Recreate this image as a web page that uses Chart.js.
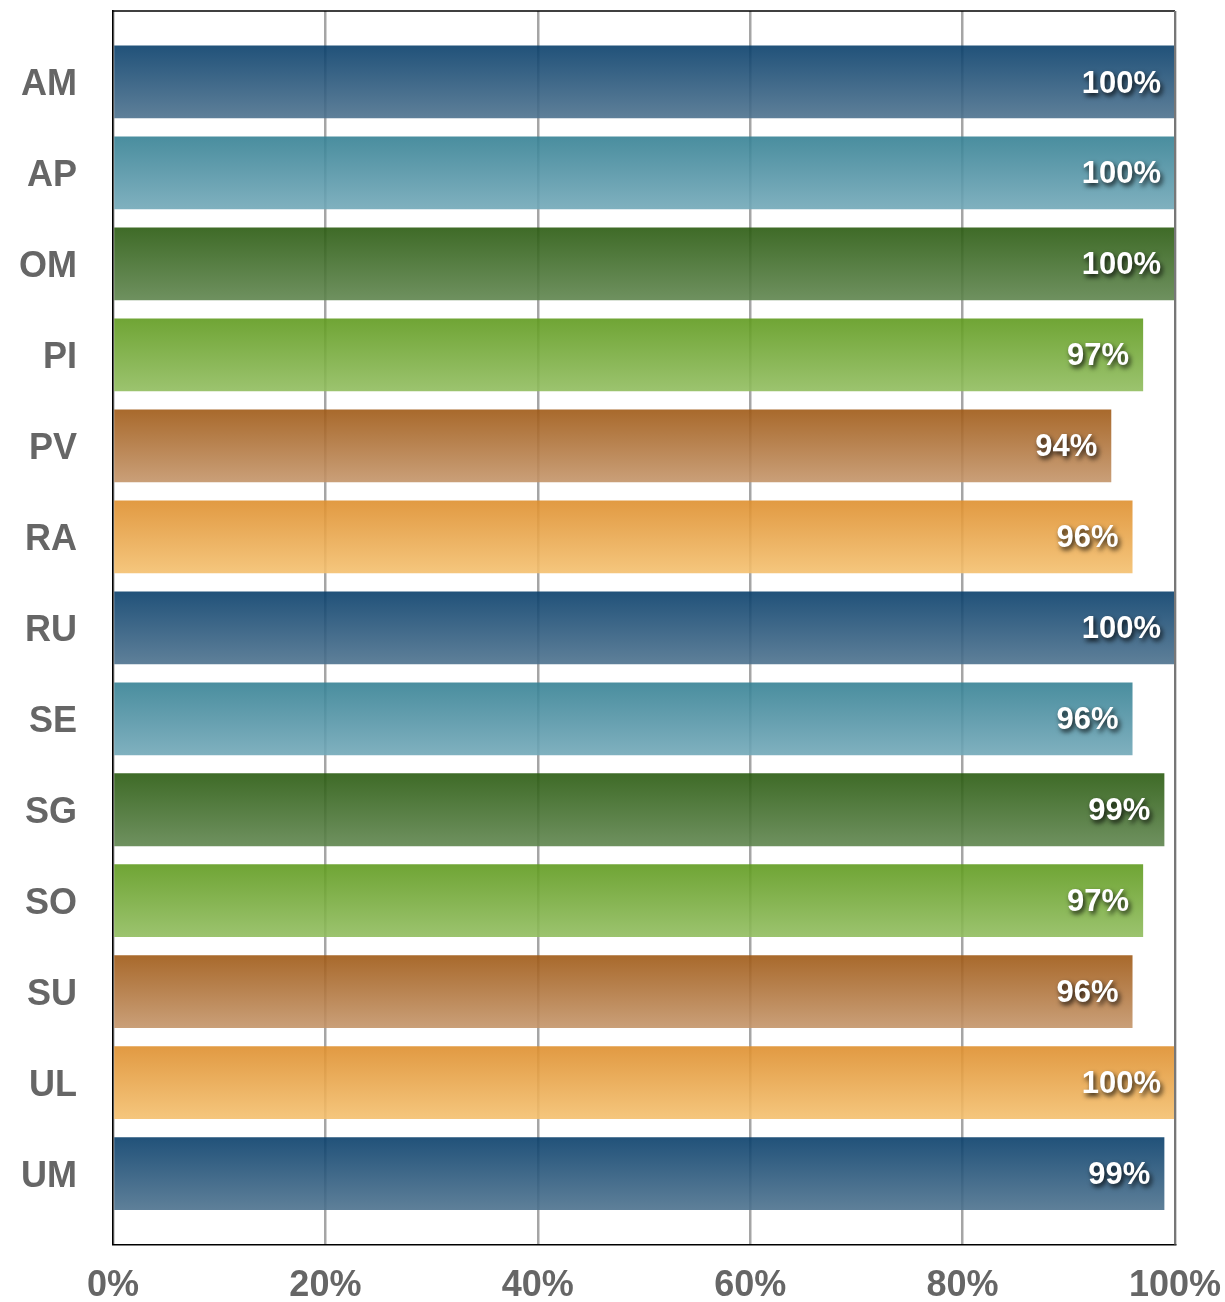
<!DOCTYPE html>
<html>
<head>
<meta charset="utf-8">
<script src="https://cdn.jsdelivr.net/npm/chart.js@4"></script>
<style>
  html, body { margin: 0; padding: 0; background: #fff; }
  #wrap { width: 1225px; height: 1302px; position: relative; }
</style>
</head>
<body>
<div id="wrap"><canvas id="chart"></canvas></div>
<script>
let categories = ["AM", "AP", "OM", "PI", "PV", "RA", "RU", "SE", "SG", "SO", "SU", "UL", "UM"];
let values = [100, 100, 100, 97, 94, 96, 100, 96, 99, 97, 96, 100, 99];
let xTicks = [0, 20, 40, 60, 80, 100];

// top / bottom colour of each bar gradient, repeating down the list
// (slightly see-through so the grid shows faintly behind the bars)
let topColors = [
  "rgba(9,63,107,0.9)", "rgba(54,129,148,0.9)", "rgba(42,91,16,0.9)",
  "rgba(96,155,31,0.9)", "rgba(159,89,21,0.9)", "rgba(222,143,46,0.9)"
];
let bottomColors = [
  "rgba(77,114,142,0.9)", "rgba(114,168,184,0.9)", "rgba(95,133,78,0.9)",
  "rgba(145,189,95,0.9)", "rgba(196,149,106,0.9)", "rgba(244,192,111,0.9)"
];

let barPct = 0.8;
let labelFont = "'Liberation Sans', Arial, sans-serif";

function barGradient(ctx) {
  let chart = ctx.chart;
  let y = chart.scales.y;
  if (!y || !chart.chartArea) return topColors[ctx.dataIndex % 6];
  let i = ctx.dataIndex;
  let half = Math.abs(y.getPixelForValue(1) - y.getPixelForValue(0)) * barPct / 2;
  let c = y.getPixelForValue(i);
  let g = chart.ctx.createLinearGradient(0, c - half, 0, c + half);
  g.addColorStop(0, topColors[i % 6]);
  g.addColorStop(1, bottomColors[i % 6]);
  return g;
}

// white percentage text inside the end of each bar
const valueLabels = {
  id: "valueLabels",
  afterDatasetsDraw(chart) {
    let ctx = chart.ctx;
    let meta = chart.getDatasetMeta(0);
    ctx.save();
    ctx.font = "bold 31px " + labelFont;
    ctx.textAlign = "right";
    ctx.textBaseline = "middle";
    ctx.fillStyle = "#fff";
    ctx.shadowColor = "rgba(0,0,0,0.85)";
    ctx.shadowOffsetX = 2;
    ctx.shadowOffsetY = 3;
    ctx.shadowBlur = 5;
    meta.data.forEach((bar, i) => {
      ctx.fillText(values[i] + "%", bar.x - 14, bar.y + 2);
    });
    ctx.restore();
  }
};

// frame: black line on top, grey line on the right
const frame = {
  id: "frame",
  afterDraw(chart) {
    let a = chart.chartArea;
    let ctx = chart.ctx;
    ctx.save();
    ctx.strokeStyle = "#000";
    ctx.lineWidth = 1.5;
    ctx.beginPath();
    ctx.moveTo(a.left, a.top);
    ctx.lineTo(a.right, a.top);
    ctx.stroke();
    ctx.strokeStyle = "#777";
    ctx.lineWidth = 2;
    ctx.beginPath();
    ctx.moveTo(a.right, a.top);
    ctx.lineTo(a.right, a.bottom);
    ctx.stroke();
    ctx.restore();
  }
};

let chart = new Chart(document.getElementById("chart"), {
  type: "bar",
  data: {
    datasets: [{
      data: values.map((v, i) => ({ x: v, y: i })),
      backgroundColor: barGradient,
      borderWidth: 0,
      categoryPercentage: 1,
      barPercentage: barPct
    }]
  },
  options: {
    indexAxis: "y",
    responsive: true,
    maintainAspectRatio: false,
    animation: false,
    layout: { padding: { top: 11, right: 50, left: 19, bottom: 0 } },
    plugins: { legend: { display: false }, tooltip: { enabled: false } },
    scales: {
      x: {
        type: "linear",
        min: 0,
        max: 100,
        afterBuildTicks: axis => { axis.ticks = xTicks.map(v => ({ value: v })); },
        grid: {
          color: "#a5a5a5",
          lineWidth: 2.5,
          drawTicks: true,
          tickLength: 25,
          tickColor: "transparent"
        },
        border: { color: "#000", width: 1.5 },
        ticks: {
          padding: 0,
          color: "#666",
          font: { family: labelFont, size: 36, weight: "bold", lineHeight: 0.9 },
          callback: v => v + "%"
        }
      },
      y: {
        type: "linear",
        reverse: true,
        offset: false,
        min: -0.78,
        max: 12.78,
        afterBuildTicks: axis => { axis.ticks = categories.map((c, i) => ({ value: i })); },
        grid: {
          drawOnChartArea: false,
          drawTicks: true,
          tickLength: 36,
          tickColor: "transparent"
        },
        border: { color: "#000", width: 1.5 },
        ticks: {
          padding: 0,
          labelOffset: 3,
          color: "#666",
          font: { family: labelFont, size: 36, weight: "bold", lineHeight: 0.5 },
          callback: v => categories[v]
        }
      }
    }
  },
  plugins: [valueLabels, frame]
});
</script>
</body>
</html>
